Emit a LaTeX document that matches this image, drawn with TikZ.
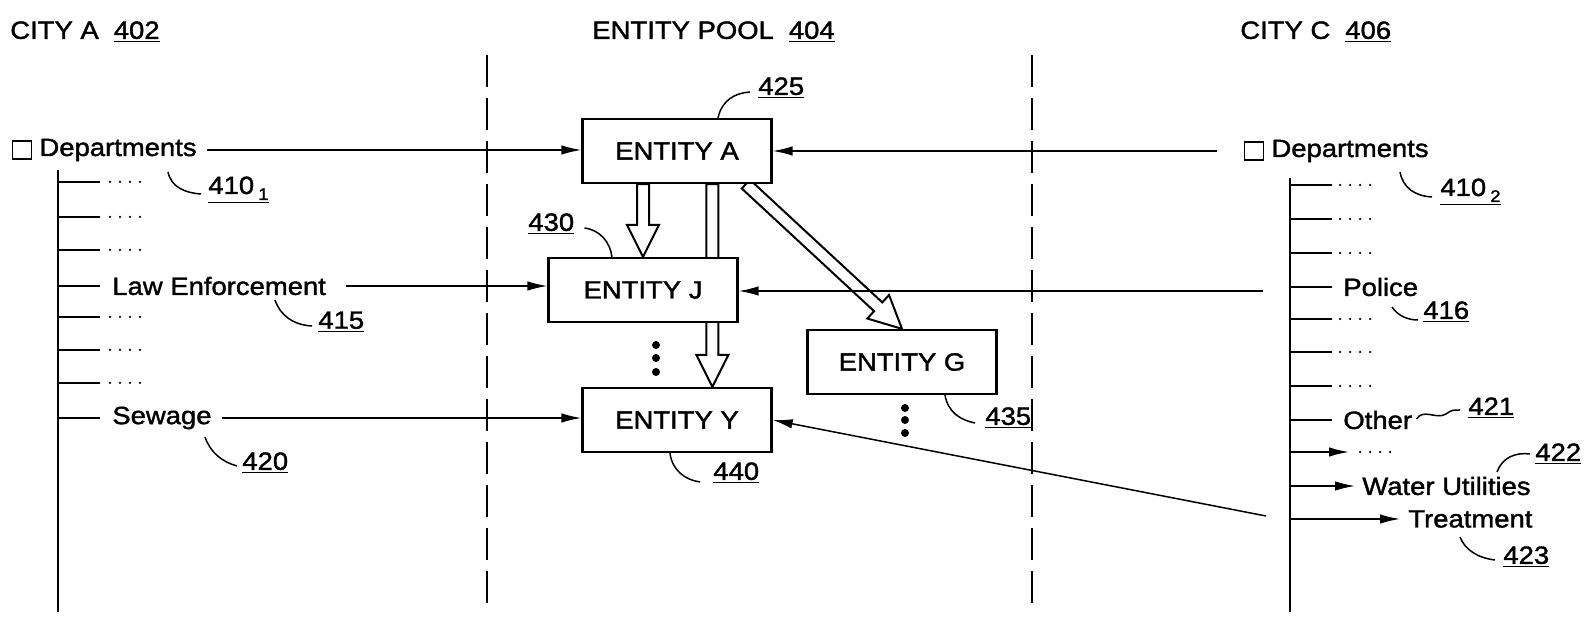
\documentclass[tikz,border=0pt]{standalone}
\usepackage{fontspec}
\setmainfont{Liberation Sans}[FakeStretch=1.1, FakeBold=1.5]
\usepackage{tikz}
\usetikzlibrary{positioning,calc,arrows.meta,backgrounds}

\newcommand{\refsub}[1]{\,\raisebox{-0.45ex}{\fontsize{9.5}{10}\selectfont #1}}
\newcommand{\hollowarrow}[2]{%
  \draw[hollow] let \p1=(#1), \p2=(#2),
    \n1={atan2(\y2-\y1,\x2-\x1)}, \n2={veclen(\x2-\x1,\y2-\y1)-6.4mm},
    \n3={\n1+90}, \n4={\n1-90} in
    ($(\p1)+(\n3:1.2mm)$) -- ($(\p1)+(\n1:\n2)+(\n3:1.2mm)$)
    -- ($(\p1)+(\n1:\n2)+(\n3:3.2mm)$) -- (\p2)
    -- ($(\p1)+(\n1:\n2)+(\n4:3.2mm)$) -- ($(\p1)+(\n1:\n2)+(\n4:1.2mm)$)
    -- ($(\p1)+(\n4:1.2mm)$) -- cycle;}

\begin{document}
\begin{tikzpicture}[
  x=0.2mm, y=-0.2mm,
  every node/.style={font=\fontsize{14.2}{17}\selectfont},
  box/.style={rectangle, draw, line width=0.45mm, fill=white,
              minimum width=37.8mm, minimum height=12.8mm},
  txt/.style={anchor=west, inner sep=0pt},
  num/.style={anchor=west, inner sep=0pt},
  cbox/.style={rectangle, draw, line width=0.25mm, minimum width=3.8mm,
               minimum height=3.6mm, inner sep=0pt},
  conn/.style={line width=0.3mm, -{Latex[length=4mm,width=1.9mm]}},
  tree/.style={line width=0.35mm},
  lead/.style={line width=0.3mm},
  pool/.style={line width=0.4mm, dash pattern=on 6.4mm off 2.2mm},
  hollow/.style={draw, fill=white, line width=0.4mm}
]
\useasboundingbox (0,0) rectangle (1585,622);

\node[txt] (cityA) at (10,32) {CITY A\hspace{3mm}\underline{402}};
\node[txt] (pool) at (592,32) {ENTITY POOL\hspace{3mm}\underline{404}};
\node[txt] (cityC) at (1240,32) {CITY C\hspace{3mm}\underline{406}};

\draw[pool] (487,55) -- (487,612);
\draw[pool] (1032,55) -- (1032,612);

\node[box] (entA) at (677,151) {ENTITY A};
\node[box] (entJ) at (643,290) {ENTITY J};
\node[box] (entG) at (902,362) {ENTITY G};
\node[box] (entY) at (677,420) {ENTITY Y};

\coordinate (ay) at ($(entY.north)!0.37!(entY.north east)$);
\coordinate (ag) at ($(entA.south)!0.72!(entA.south east)$);
\begin{pgfonlayer}{background}
\hollowarrow{entJ.north |- entA.south}{entJ.north}
\hollowarrow{ay |- entA.south}{ay}
\hollowarrow{ag}{entG.north}
\end{pgfonlayer}

\foreach \y in {345,358,372} \fill (656,\y) circle (0.8mm);
\foreach \y in {408,420,433} \fill (905,\y) circle (0.8mm);

% city A
\node[cbox] (cbA) at (22,150) {};
\node[txt, right=1.4mm of cbA] (deptA) {Departments};
\draw[conn, shorten <=2mm] (deptA.east) -- (deptA.east -| entA.west);
\coordinate (treeA) at (58,170);
\draw[tree] (treeA) -- (58,612);
\foreach \y in {182,217,250,317,350,383} {
  \draw[tree] (treeA |- 0,\y) -- (100,\y);
  \foreach \d in {0,...,3} \fill (110+10*\d,\y) circle (0.25mm);
}
\foreach \y in {286,418} \draw[tree] (treeA |- 0,\y) -- (100,\y);
\node[txt] (law) at (112,286) {Law Enforcement};
\draw[conn, shorten <=4mm] (law.east) -- (law.east -| entJ.west);
\node[txt] (sew) at (112,418) {Sewage};
\draw[conn, shorten <=2mm] (sew.east) -- (sew.east -| entY.west);

% city C
\node[cbox] (cbC) at (1254,151) {};
\node[txt, right=1.4mm of cbC] (deptC) {Departments};
\draw[conn, shorten <=5.4mm] (cbC.west) -- (cbC.west -| entA.east);
\coordinate (treeC) at (1290,178);
\draw[tree] (treeC) -- (1290,612);
\foreach \y in {185,219,253,319,352,386} {
  \draw[tree] (treeC |- 0,\y) -- (1332,\y);
  \foreach \d in {0,...,3} \fill (1340+10*\d,\y) circle (0.25mm);
}
\foreach \y in {287,420} \draw[tree] (treeC |- 0,\y) -- (1332,\y);
\node[txt] (pol) at (1343,287) {Police};
\node[txt] (oth) at (1343,420) {Other};
\draw[conn] (treeC |- 0,452) -- (1349,452);
\foreach \d in {0,...,3} \fill (1360+10*\d,452) circle (0.25mm);
\node[txt] (wat) at (1362,486) {Water Utilities};
\draw[conn, shorten >=1.4mm] (wat.west -| treeC) -- (wat.west);
\node[txt] (trt) at (1408,519) {Treatment};
\draw[conn, shorten >=1.6mm] (trt.west -| treeC) -- (trt.west);
\coordinate (polEnd) at (1263,291);
\draw[conn] (polEnd) -- (polEnd -| entJ.east);
\coordinate (trtEnd) at (1266,516);
\draw[conn] (trtEnd) -- (entY.east);

% reference numerals
\node[num] (n4101) at (208,190) {\underline{410\refsub{1}}};
\draw[lead] (168,172) .. controls (171,187) and (185,193) .. ([shift={(-7,4)}]n4101.west);
\node[num] (n415) at (318,322) {\underline{415}};
\draw[lead] (275,300) .. controls (280,315) and (293,325) .. ([shift={(-6,4)}]n415.west);
\node[num] (n420) at (242,463) {\underline{420}};
\draw[lead] (205,437) .. controls (210,452) and (222,462) .. ([shift={(-5,3)}]n420.west);
\node[num] (n425) at (758,88) {\underline{425}};
\draw[lead] ([shift={(41,0)}]entA.north) .. controls (722,100) and (735,93) .. ([shift={(-8,4)}]n425.west);
\node[num] (n430) at (528,224) {\underline{430}};
\draw[lead] ([shift={(10,4)}]n430.east) .. controls (600,230) and (610,242) .. ([shift={(-31,0)}]entJ.north);
\node[num] (n440) at (713,473) {\underline{440}};
\draw[lead] ([shift={(-7,0)}]entY.south) .. controls (672,470) and (685,480) .. ([shift={(-13,9)}]n440.west);
\node[num] (n435) at (985,418) {\underline{435}};
\draw[lead] ([shift={(43,0)}]entG.south) .. controls (948,412) and (960,420) .. ([shift={(-10,5)}]n435.west);
\node[num] (n4102) at (1440,192) {\underline{410\refsub{2}}};
\draw[lead] (1400,172) .. controls (1403,188) and (1415,196) .. ([shift={(-8,5)}]n4102.west);
\node[num] (n416) at (1423,312) {\underline{416}};
\draw[lead] (1392,307) .. controls (1398,316) and (1408,320) .. ([shift={(-5,8)}]n416.west);
\node[num] (n421) at (1468,408) {\underline{421}};
\draw[lead] ([shift={(4,-1)}]oth.east) .. controls (1424,408) and (1436,420) .. (1446,414)
  .. controls (1452,410) .. ([shift={(-8,2)}]n421.west);
\node[num] (n422) at (1535,454) {\underline{422}};
\draw[lead] (1497,472) .. controls (1502,458) and (1515,452) .. ([shift={(-5,0)}]n422.west);
\node[num] (n423) at (1503,557) {\underline{423}};
\draw[lead] (1460,537) .. controls (1465,550) and (1478,558) .. ([shift={(-8,3)}]n423.west);
\end{tikzpicture}
\end{document}
